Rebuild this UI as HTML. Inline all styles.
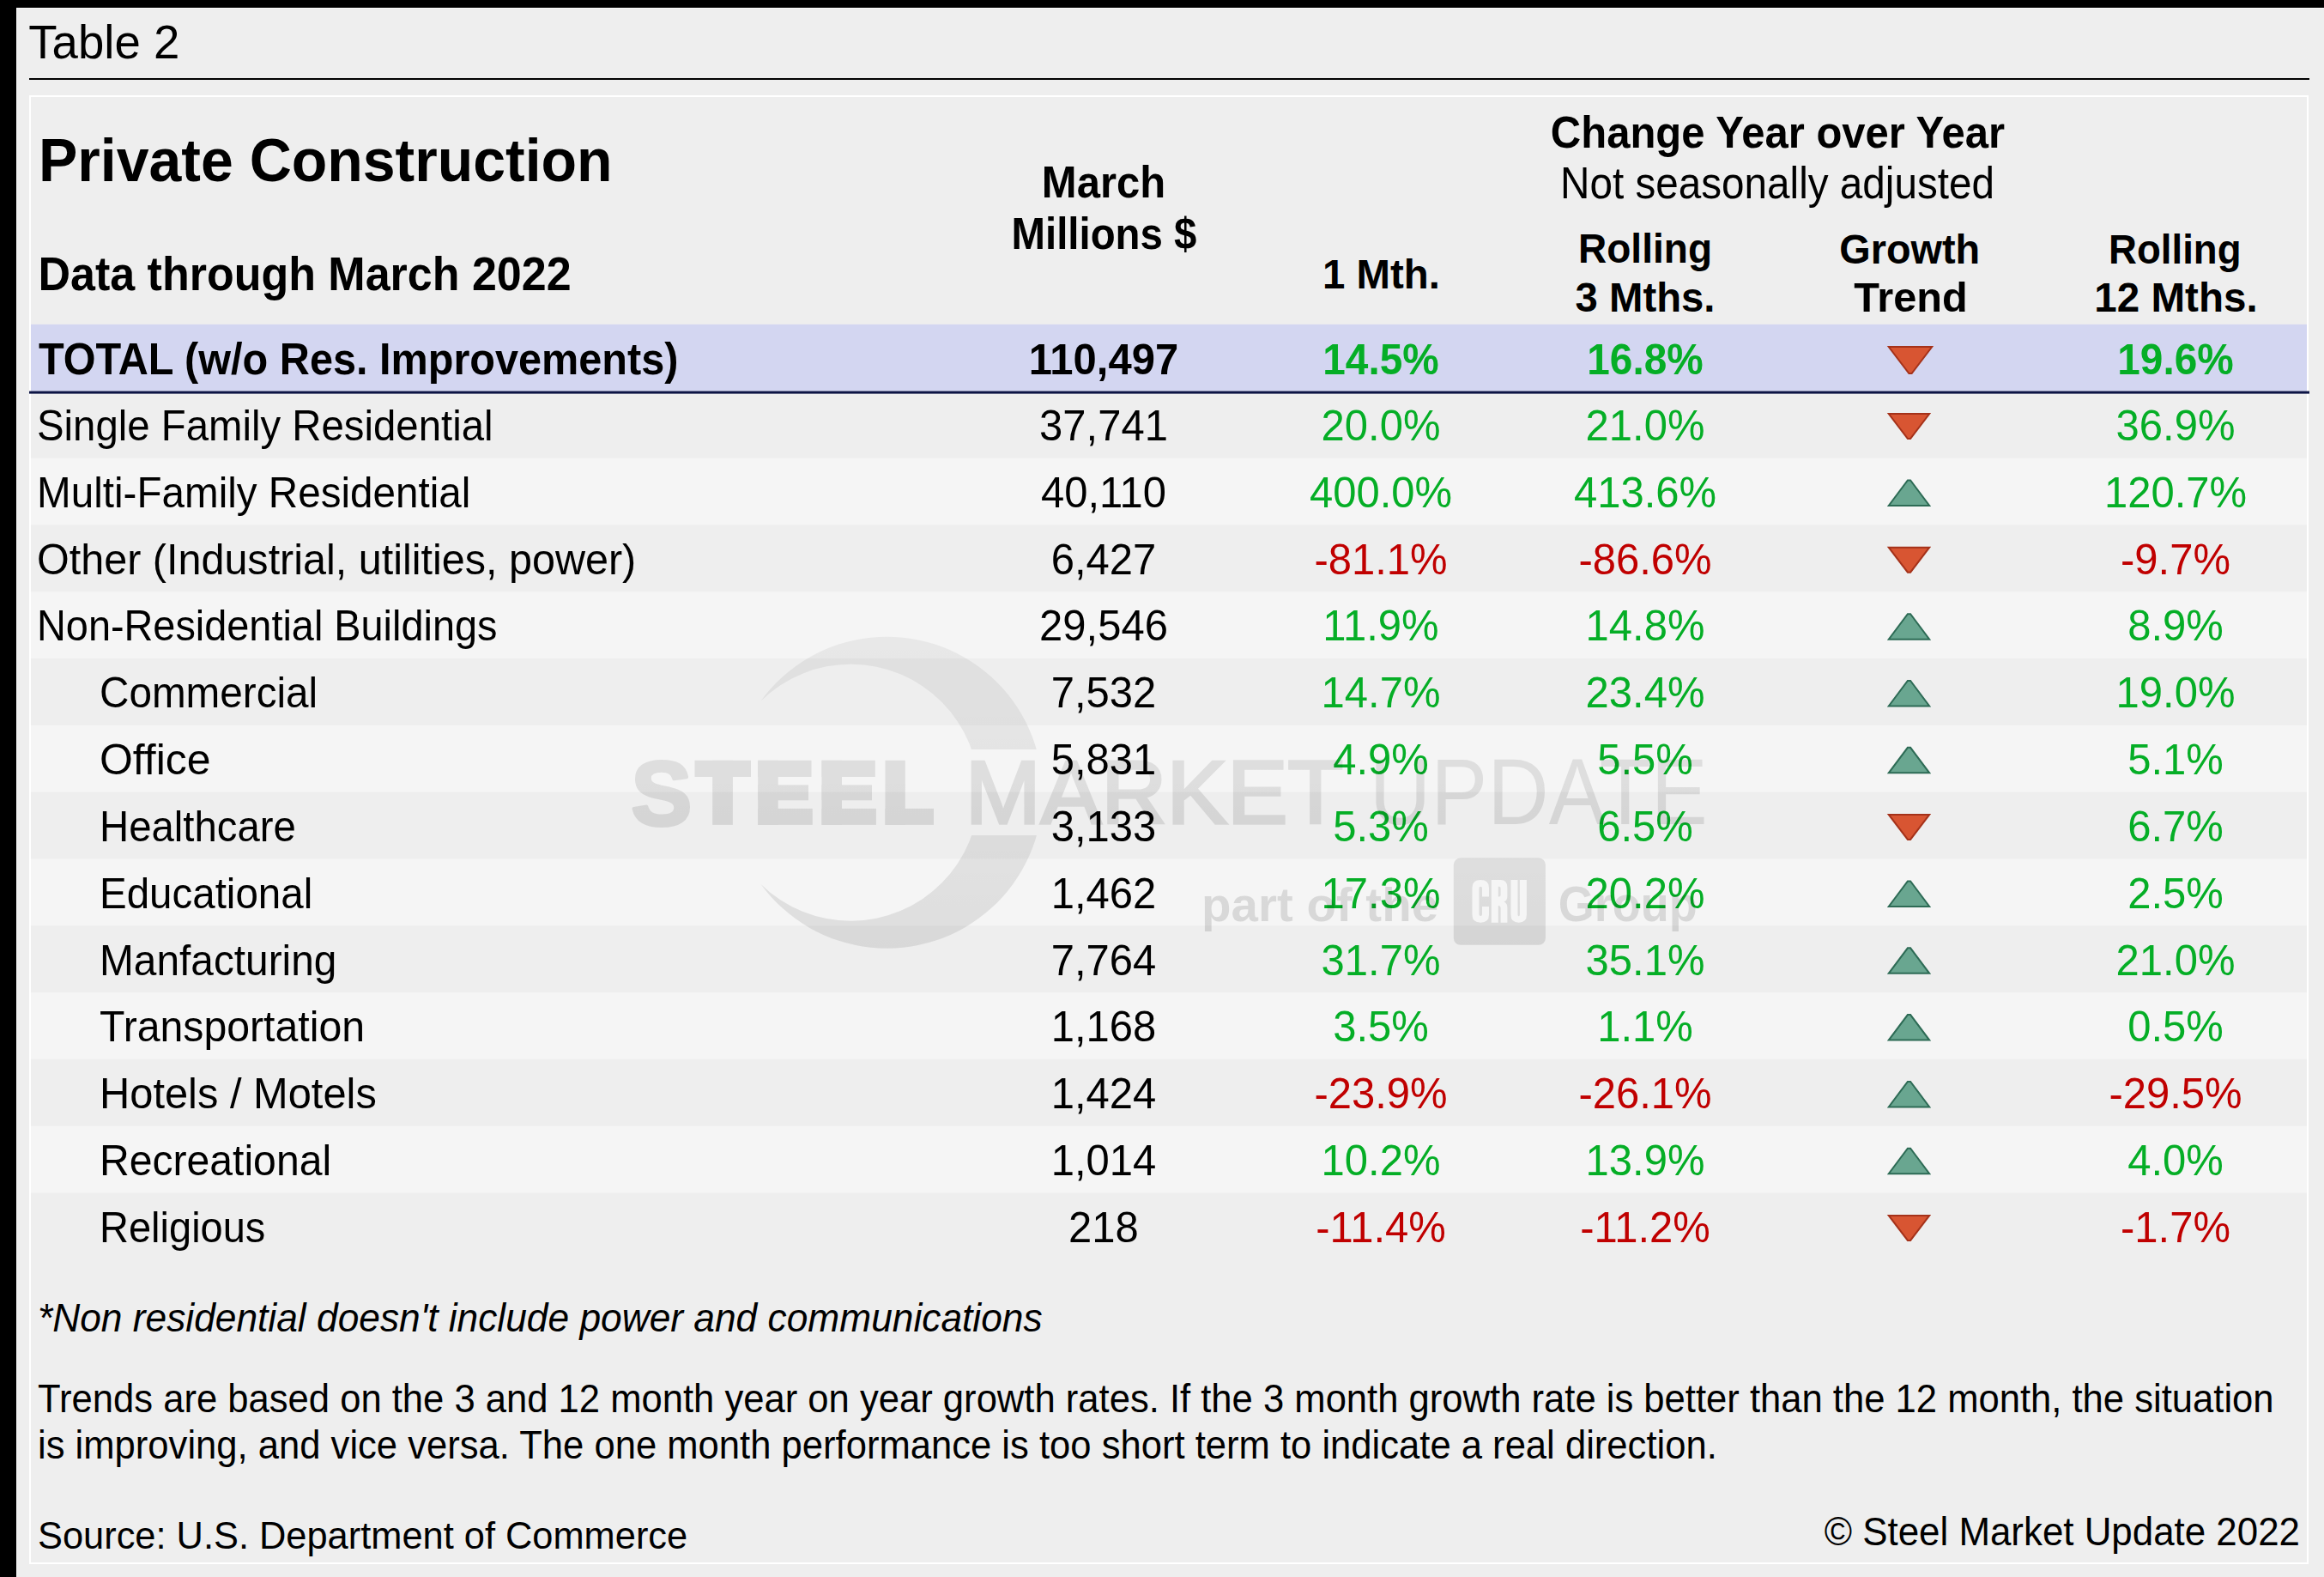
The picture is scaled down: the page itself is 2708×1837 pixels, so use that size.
<!DOCTYPE html>
<html><head><meta charset="utf-8"><style>
html,body{margin:0;padding:0;background:#eeeeee;}
svg{display:block;}
text{font-family:"Liberation Sans", sans-serif;white-space:pre;}
</style></head><body>
<svg width="2708" height="1837" viewBox="0 0 2708 1837">
<rect x="0" y="0" width="2708" height="1837" fill="#eeeeee"/>
<rect x="0" y="0" width="2708" height="9" fill="#000"/>
<rect x="0" y="0" width="19" height="1837" fill="#000"/>
<rect x="19" y="9" width="2689" height="1" fill="#fafafa"/>
<rect x="19" y="9" width="1" height="1828" fill="#fafafa"/>
<text transform="translate(33.30,68.40) scale(0.993,1.0)" font-size="55" font-weight="normal" font-style="normal" text-anchor="start" fill="#000">Table 2</text>
<rect x="34" y="91" width="2657" height="2" fill="#000"/>
<rect x="35" y="112" width="2654" height="1709" fill="none" stroke="#fff" stroke-width="2"/>
<rect x="36" y="533.54" width="2652" height="77.82" fill="#f5f5f5"/>
<rect x="36" y="689.18" width="2652" height="77.82" fill="#f5f5f5"/>
<rect x="36" y="844.82" width="2652" height="77.82" fill="#f5f5f5"/>
<rect x="36" y="1000.46" width="2652" height="77.82" fill="#f5f5f5"/>
<rect x="36" y="1156.10" width="2652" height="77.82" fill="#f5f5f5"/>
<rect x="36" y="1311.74" width="2652" height="77.82" fill="#f5f5f5"/>
<rect x="36" y="377.9" width="2652" height="77.80" fill="#d3d6f1"/>
<rect x="34" y="455.6" width="2657" height="3" fill="#0c1445"/>
<text transform="translate(45.00,210.70) scale(1.0,1.04)" font-size="68" font-weight="bold" font-style="normal" text-anchor="start" fill="#000">Private Construction</text>
<text transform="translate(44.50,337.80) scale(1.0,1.05)" font-size="52" font-weight="bold" font-style="normal" text-anchor="start" fill="#000">Data through March 2022</text>
<text transform="translate(1286.00,229.70) scale(1.0,1.06)" font-size="49" font-weight="bold" font-style="normal" text-anchor="middle" fill="#000">March</text>
<text transform="translate(1286.50,290.40) scale(0.967,1.06)" font-size="49" font-weight="bold" font-style="normal" text-anchor="middle" fill="#000">Millions $</text>
<text transform="translate(1609.50,336.10) scale(1.009,1.02)" font-size="47" font-weight="bold" font-style="normal" text-anchor="middle" fill="#000">1 Mth.</text>
<text transform="translate(2071.50,171.60) scale(1.0,1.06)" font-size="49" font-weight="bold" font-style="normal" text-anchor="middle" fill="#000">Change Year over Year</text>
<text transform="translate(2071.00,231.00) scale(0.993,1.06)" font-size="48" font-weight="normal" font-style="normal" text-anchor="middle" fill="#000">Not seasonally adjusted</text>
<text transform="translate(1917.00,306.40) scale(0.98,1.02)" font-size="47" font-weight="bold" font-style="normal" text-anchor="middle" fill="#000">Rolling</text>
<text transform="translate(1917.00,362.70) scale(1.006,1.02)" font-size="47" font-weight="bold" font-style="normal" text-anchor="middle" fill="#000">3 Mths.</text>
<text transform="translate(2225.20,306.50) scale(0.997,1.02)" font-size="47" font-weight="bold" font-style="normal" text-anchor="middle" fill="#000">Growth</text>
<text transform="translate(2226.50,362.70) scale(1.036,1.02)" font-size="47" font-weight="bold" font-style="normal" text-anchor="middle" fill="#000">Trend</text>
<text transform="translate(2534.30,306.70) scale(0.97,1.02)" font-size="47" font-weight="bold" font-style="normal" text-anchor="middle" fill="#000">Rolling</text>
<text transform="translate(2535.50,362.90) scale(1.012,1.02)" font-size="47" font-weight="bold" font-style="normal" text-anchor="middle" fill="#000">12 Mths.</text>
<text transform="translate(45.00,436.30) scale(0.992,1.06)" font-size="49" font-weight="bold" font-style="normal" text-anchor="start" fill="#000">TOTAL (w/o Res. Improvements)</text>
<text transform="translate(1286.00,436.30) scale(1.0,1.025)" font-size="49" font-weight="bold" font-style="normal" text-anchor="middle" fill="#000">110,497</text>
<text transform="translate(1609.00,436.30) scale(0.975,1.025)" font-size="49" font-weight="bold" font-style="normal" text-anchor="middle" fill="#05ae26">14.5%</text>
<text transform="translate(1917.00,436.30) scale(0.975,1.025)" font-size="49" font-weight="bold" font-style="normal" text-anchor="middle" fill="#05ae26">16.8%</text>
<text transform="translate(2535.00,436.30) scale(0.975,1.025)" font-size="49" font-weight="bold" font-style="normal" text-anchor="middle" fill="#05ae26">19.6%</text>
<polygon points="2200.8,404.0 2251.2,404.0 2227.6,435.0 2224.4,435.0" fill="#d85532" stroke="#a5321a" stroke-width="2" stroke-linejoin="miter" stroke-miterlimit="3"/>
<text transform="translate(43.00,513.00) scale(0.997,1.06)" font-size="47.5" font-weight="normal" font-style="normal" text-anchor="start" fill="#000">Single Family Residential</text>
<text transform="translate(1286.00,513.00) scale(1.0,1.025)" font-size="49" font-weight="normal" font-style="normal" text-anchor="middle" fill="#000">37,741</text>
<text transform="translate(1609.00,513.00) scale(1.0,1.025)" font-size="49" font-weight="normal" font-style="normal" text-anchor="middle" fill="#05ae26">20.0%</text>
<text transform="translate(1917.00,513.00) scale(1.0,1.025)" font-size="49" font-weight="normal" font-style="normal" text-anchor="middle" fill="#05ae26">21.0%</text>
<text transform="translate(2535.00,513.00) scale(1.0,1.025)" font-size="49" font-weight="normal" font-style="normal" text-anchor="middle" fill="#05ae26">36.9%</text>
<polygon points="2200.8,482.0 2248.2,482.0 2226.1,511.0 2222.9,511.0" fill="#d85532" stroke="#a5321a" stroke-width="2" stroke-linejoin="miter" stroke-miterlimit="3"/>
<text transform="translate(43.00,590.82) scale(1.0026829,1.06)" font-size="47.5" font-weight="normal" font-style="normal" text-anchor="start" fill="#000">Multi-Family Residential</text>
<text transform="translate(1286.00,590.82) scale(1.0,1.025)" font-size="49" font-weight="normal" font-style="normal" text-anchor="middle" fill="#000">40,110</text>
<text transform="translate(1609.00,590.82) scale(1.0,1.025)" font-size="49" font-weight="normal" font-style="normal" text-anchor="middle" fill="#05ae26">400.0%</text>
<text transform="translate(1917.00,590.82) scale(1.0,1.025)" font-size="49" font-weight="normal" font-style="normal" text-anchor="middle" fill="#05ae26">413.6%</text>
<text transform="translate(2535.00,590.82) scale(1.0,1.025)" font-size="49" font-weight="normal" font-style="normal" text-anchor="middle" fill="#05ae26">120.7%</text>
<polygon points="2200.8,589.0 2248.2,589.0 2226.1,559.5 2222.9,559.5" fill="#69a690" stroke="#2d6b55" stroke-width="2" stroke-linejoin="miter" stroke-miterlimit="3"/>
<text transform="translate(43.00,668.64) scale(1.0213268,1.06)" font-size="47.5" font-weight="normal" font-style="normal" text-anchor="start" fill="#000">Other (Industrial, utilities, power)</text>
<text transform="translate(1286.00,668.64) scale(1.0,1.025)" font-size="49" font-weight="normal" font-style="normal" text-anchor="middle" fill="#000">6,427</text>
<text transform="translate(1609.00,668.64) scale(1.0,1.025)" font-size="49" font-weight="normal" font-style="normal" text-anchor="middle" fill="#c00000">-81.1%</text>
<text transform="translate(1917.00,668.64) scale(1.0,1.025)" font-size="49" font-weight="normal" font-style="normal" text-anchor="middle" fill="#c00000">-86.6%</text>
<text transform="translate(2535.00,668.64) scale(1.0,1.025)" font-size="49" font-weight="normal" font-style="normal" text-anchor="middle" fill="#c00000">-9.7%</text>
<polygon points="2200.8,637.7 2248.2,637.7 2226.1,666.7 2222.9,666.7" fill="#d85532" stroke="#a5321a" stroke-width="2" stroke-linejoin="miter" stroke-miterlimit="3"/>
<text transform="translate(43.00,746.46) scale(0.9864318,1.06)" font-size="47.5" font-weight="normal" font-style="normal" text-anchor="start" fill="#000">Non-Residential Buildings</text>
<text transform="translate(1286.00,746.46) scale(1.0,1.025)" font-size="49" font-weight="normal" font-style="normal" text-anchor="middle" fill="#000">29,546</text>
<text transform="translate(1609.00,746.46) scale(1.0,1.025)" font-size="49" font-weight="normal" font-style="normal" text-anchor="middle" fill="#05ae26">11.9%</text>
<text transform="translate(1917.00,746.46) scale(1.0,1.025)" font-size="49" font-weight="normal" font-style="normal" text-anchor="middle" fill="#05ae26">14.8%</text>
<text transform="translate(2535.00,746.46) scale(1.0,1.025)" font-size="49" font-weight="normal" font-style="normal" text-anchor="middle" fill="#05ae26">8.9%</text>
<polygon points="2200.8,744.7 2248.2,744.7 2226.1,715.2 2222.9,715.2" fill="#69a690" stroke="#2d6b55" stroke-width="2" stroke-linejoin="miter" stroke-miterlimit="3"/>
<text transform="translate(116.00,824.28) scale(1.0034805,1.06)" font-size="47.5" font-weight="normal" font-style="normal" text-anchor="start" fill="#000">Commercial</text>
<text transform="translate(1286.00,824.28) scale(1.0,1.025)" font-size="49" font-weight="normal" font-style="normal" text-anchor="middle" fill="#000">7,532</text>
<text transform="translate(1609.00,824.28) scale(1.0,1.025)" font-size="49" font-weight="normal" font-style="normal" text-anchor="middle" fill="#05ae26">14.7%</text>
<text transform="translate(1917.00,824.28) scale(1.0,1.025)" font-size="49" font-weight="normal" font-style="normal" text-anchor="middle" fill="#05ae26">23.4%</text>
<text transform="translate(2535.00,824.28) scale(1.0,1.025)" font-size="49" font-weight="normal" font-style="normal" text-anchor="middle" fill="#05ae26">19.0%</text>
<polygon points="2200.8,822.5 2248.2,822.5 2226.1,793.0 2222.9,793.0" fill="#69a690" stroke="#2d6b55" stroke-width="2" stroke-linejoin="miter" stroke-miterlimit="3"/>
<text transform="translate(116.00,902.10) scale(1.0518349999999999,1.06)" font-size="47.5" font-weight="normal" font-style="normal" text-anchor="start" fill="#000">Office</text>
<text transform="translate(1286.00,902.10) scale(1.0,1.025)" font-size="49" font-weight="normal" font-style="normal" text-anchor="middle" fill="#000">5,831</text>
<text transform="translate(1609.00,902.10) scale(1.0,1.025)" font-size="49" font-weight="normal" font-style="normal" text-anchor="middle" fill="#05ae26">4.9%</text>
<text transform="translate(1917.00,902.10) scale(1.0,1.025)" font-size="49" font-weight="normal" font-style="normal" text-anchor="middle" fill="#05ae26">5.5%</text>
<text transform="translate(2535.00,902.10) scale(1.0,1.025)" font-size="49" font-weight="normal" font-style="normal" text-anchor="middle" fill="#05ae26">5.1%</text>
<polygon points="2200.8,900.3 2248.2,900.3 2226.1,870.8 2222.9,870.8" fill="#69a690" stroke="#2d6b55" stroke-width="2" stroke-linejoin="miter" stroke-miterlimit="3"/>
<text transform="translate(116.00,979.92) scale(0.997,1.06)" font-size="47.5" font-weight="normal" font-style="normal" text-anchor="start" fill="#000">Healthcare</text>
<text transform="translate(1286.00,979.92) scale(1.0,1.025)" font-size="49" font-weight="normal" font-style="normal" text-anchor="middle" fill="#000">3,133</text>
<text transform="translate(1609.00,979.92) scale(1.0,1.025)" font-size="49" font-weight="normal" font-style="normal" text-anchor="middle" fill="#05ae26">5.3%</text>
<text transform="translate(1917.00,979.92) scale(1.0,1.025)" font-size="49" font-weight="normal" font-style="normal" text-anchor="middle" fill="#05ae26">6.5%</text>
<text transform="translate(2535.00,979.92) scale(1.0,1.025)" font-size="49" font-weight="normal" font-style="normal" text-anchor="middle" fill="#05ae26">6.7%</text>
<polygon points="2200.8,948.9 2248.2,948.9 2226.1,977.9 2222.9,977.9" fill="#d85532" stroke="#a5321a" stroke-width="2" stroke-linejoin="miter" stroke-miterlimit="3"/>
<text transform="translate(116.00,1057.74) scale(0.9999909999999999,1.06)" font-size="47.5" font-weight="normal" font-style="normal" text-anchor="start" fill="#000">Educational</text>
<text transform="translate(1286.00,1057.74) scale(1.0,1.025)" font-size="49" font-weight="normal" font-style="normal" text-anchor="middle" fill="#000">1,462</text>
<text transform="translate(1609.00,1057.74) scale(1.0,1.025)" font-size="49" font-weight="normal" font-style="normal" text-anchor="middle" fill="#05ae26">17.3%</text>
<text transform="translate(1917.00,1057.74) scale(1.0,1.025)" font-size="49" font-weight="normal" font-style="normal" text-anchor="middle" fill="#05ae26">20.2%</text>
<text transform="translate(2535.00,1057.74) scale(1.0,1.025)" font-size="49" font-weight="normal" font-style="normal" text-anchor="middle" fill="#05ae26">2.5%</text>
<polygon points="2200.8,1056.0 2248.2,1056.0 2226.1,1026.5 2222.9,1026.5" fill="#69a690" stroke="#2d6b55" stroke-width="2" stroke-linejoin="miter" stroke-miterlimit="3"/>
<text transform="translate(116.00,1135.56) scale(1.00697,1.06)" font-size="47.5" font-weight="normal" font-style="normal" text-anchor="start" fill="#000">Manfacturing</text>
<text transform="translate(1286.00,1135.56) scale(1.0,1.025)" font-size="49" font-weight="normal" font-style="normal" text-anchor="middle" fill="#000">7,764</text>
<text transform="translate(1609.00,1135.56) scale(1.0,1.025)" font-size="49" font-weight="normal" font-style="normal" text-anchor="middle" fill="#05ae26">31.7%</text>
<text transform="translate(1917.00,1135.56) scale(1.0,1.025)" font-size="49" font-weight="normal" font-style="normal" text-anchor="middle" fill="#05ae26">35.1%</text>
<text transform="translate(2535.00,1135.56) scale(1.0,1.025)" font-size="49" font-weight="normal" font-style="normal" text-anchor="middle" fill="#05ae26">21.0%</text>
<polygon points="2200.8,1133.8 2248.2,1133.8 2226.1,1104.3 2222.9,1104.3" fill="#69a690" stroke="#2d6b55" stroke-width="2" stroke-linejoin="miter" stroke-miterlimit="3"/>
<text transform="translate(116.00,1213.38) scale(1.014946,1.06)" font-size="47.5" font-weight="normal" font-style="normal" text-anchor="start" fill="#000">Transportation</text>
<text transform="translate(1286.00,1213.38) scale(1.0,1.025)" font-size="49" font-weight="normal" font-style="normal" text-anchor="middle" fill="#000">1,168</text>
<text transform="translate(1609.00,1213.38) scale(1.0,1.025)" font-size="49" font-weight="normal" font-style="normal" text-anchor="middle" fill="#05ae26">3.5%</text>
<text transform="translate(1917.00,1213.38) scale(1.0,1.025)" font-size="49" font-weight="normal" font-style="normal" text-anchor="middle" fill="#05ae26">1.1%</text>
<text transform="translate(2535.00,1213.38) scale(1.0,1.025)" font-size="49" font-weight="normal" font-style="normal" text-anchor="middle" fill="#05ae26">0.5%</text>
<polygon points="2200.8,1211.6 2248.2,1211.6 2226.1,1182.1 2222.9,1182.1" fill="#69a690" stroke="#2d6b55" stroke-width="2" stroke-linejoin="miter" stroke-miterlimit="3"/>
<text transform="translate(116.00,1291.20) scale(1.027907,1.06)" font-size="47.5" font-weight="normal" font-style="normal" text-anchor="start" fill="#000">Hotels / Motels</text>
<text transform="translate(1286.00,1291.20) scale(1.0,1.025)" font-size="49" font-weight="normal" font-style="normal" text-anchor="middle" fill="#000">1,424</text>
<text transform="translate(1609.00,1291.20) scale(1.0,1.025)" font-size="49" font-weight="normal" font-style="normal" text-anchor="middle" fill="#c00000">-23.9%</text>
<text transform="translate(1917.00,1291.20) scale(1.0,1.025)" font-size="49" font-weight="normal" font-style="normal" text-anchor="middle" fill="#c00000">-26.1%</text>
<text transform="translate(2535.00,1291.20) scale(1.0,1.025)" font-size="49" font-weight="normal" font-style="normal" text-anchor="middle" fill="#c00000">-29.5%</text>
<polygon points="2200.8,1289.4 2248.2,1289.4 2226.1,1259.9 2222.9,1259.9" fill="#69a690" stroke="#2d6b55" stroke-width="2" stroke-linejoin="miter" stroke-miterlimit="3"/>
<text transform="translate(116.00,1369.02) scale(1.012952,1.06)" font-size="47.5" font-weight="normal" font-style="normal" text-anchor="start" fill="#000">Recreational</text>
<text transform="translate(1286.00,1369.02) scale(1.0,1.025)" font-size="49" font-weight="normal" font-style="normal" text-anchor="middle" fill="#000">1,014</text>
<text transform="translate(1609.00,1369.02) scale(1.0,1.025)" font-size="49" font-weight="normal" font-style="normal" text-anchor="middle" fill="#05ae26">10.2%</text>
<text transform="translate(1917.00,1369.02) scale(1.0,1.025)" font-size="49" font-weight="normal" font-style="normal" text-anchor="middle" fill="#05ae26">13.9%</text>
<text transform="translate(2535.00,1369.02) scale(1.0,1.025)" font-size="49" font-weight="normal" font-style="normal" text-anchor="middle" fill="#05ae26">4.0%</text>
<polygon points="2200.8,1367.2 2248.2,1367.2 2226.1,1337.7 2222.9,1337.7" fill="#69a690" stroke="#2d6b55" stroke-width="2" stroke-linejoin="miter" stroke-miterlimit="3"/>
<text transform="translate(116.00,1446.84) scale(0.990021,1.06)" font-size="47.5" font-weight="normal" font-style="normal" text-anchor="start" fill="#000">Religious</text>
<text transform="translate(1286.00,1446.84) scale(1.0,1.025)" font-size="49" font-weight="normal" font-style="normal" text-anchor="middle" fill="#000">218</text>
<text transform="translate(1609.00,1446.84) scale(1.0,1.025)" font-size="49" font-weight="normal" font-style="normal" text-anchor="middle" fill="#c00000">-11.4%</text>
<text transform="translate(1917.00,1446.84) scale(1.0,1.025)" font-size="49" font-weight="normal" font-style="normal" text-anchor="middle" fill="#c00000">-11.2%</text>
<text transform="translate(2535.00,1446.84) scale(1.0,1.025)" font-size="49" font-weight="normal" font-style="normal" text-anchor="middle" fill="#c00000">-1.7%</text>
<polygon points="2200.8,1415.9 2248.2,1415.9 2226.1,1444.9 2222.9,1444.9" fill="#d85532" stroke="#a5321a" stroke-width="2" stroke-linejoin="miter" stroke-miterlimit="3"/>
<text transform="translate(44.00,1551.00) scale(1.0,1.04)" font-size="44.3" font-weight="normal" font-style="italic" text-anchor="start" fill="#000">*Non residential doesn&#39;t include power and communications</text>
<text transform="translate(44.00,1645.00) scale(1.0,1.04)" font-size="43.6" font-weight="normal" font-style="normal" text-anchor="start" fill="#000">Trends are based on the 3 and 12 month year on year growth rates. If the 3 month growth rate is better than the 12 month, the situation</text>
<text transform="translate(44.00,1698.60) scale(1.0,1.04)" font-size="43.6" font-weight="normal" font-style="normal" text-anchor="start" fill="#000">is improving, and vice versa. The one month performance is too short term to indicate a real direction.</text>
<text transform="translate(44.00,1803.50) scale(1.0,1.04)" font-size="43.4" font-weight="normal" font-style="normal" text-anchor="start" fill="#000">Source: U.S. Department of Commerce</text>
<text transform="translate(2680.00,1800.00) scale(1.0,1.04)" font-size="43.9" font-weight="normal" font-style="normal" text-anchor="end" fill="#000">© Steel Market Update 2022</text>
<defs><clipPath id="cband"><rect x="600" y="600" width="800" height="273"/><rect x="600" y="973" width="800" height="300"/></clipPath><linearGradient id="wmg" gradientUnits="userSpaceOnUse" x1="0" y1="740" x2="0" y2="1105"><stop offset="0" stop-color="#fff" stop-opacity="0.07"/><stop offset="1" stop-color="#fff" stop-opacity="0.125"/></linearGradient><mask id="wmm" maskUnits="userSpaceOnUse" x="0" y="0" width="2708" height="1837"><rect x="0" y="700" width="2708" height="420" fill="url(#wmg)"/></mask></defs>
<g mask="url(#wmm)" fill="#000">
<path clip-path="url(#cband)" opacity="0.72" d="M 886.6,816.5 A 181.5,181.5 0 1,1 886.6,1029.9 A 149.5,149.5 0 1,0 886.6,816.5 Z"/>
<text transform="translate(735.5,960.7)" font-size="106" font-weight="bold" stroke="#000" stroke-width="4" stroke-linejoin="round">S</text>
<rect x="809.5" y="885.8" width="65.5" height="19.1"/>
<rect x="830.2" y="885.8" width="23.7" height="75.1"/>
<rect x="883.2" y="885.8" width="23.5" height="75.1"/>
<rect x="883.2" y="885.8" width="62.3" height="19.1"/>
<rect x="883.2" y="914.4" width="58.8" height="17.9"/>
<rect x="883.2" y="941.9" width="63.6" height="19.0"/>
<rect x="957.5" y="885.8" width="23.5" height="75.1"/>
<rect x="957.5" y="885.8" width="62.3" height="19.1"/>
<rect x="957.5" y="914.4" width="58.5" height="17.9"/>
<rect x="957.5" y="941.9" width="63.4" height="19.0"/>
<rect x="1031.5" y="885.8" width="23.3" height="75.1"/>
<rect x="1031.5" y="941.9" width="56.5" height="19.0"/>
<text transform="translate(1124.8,958.85) scale(0.9965,0.985)" font-size="106" stroke="#000" stroke-width="3.5" stroke-linejoin="miter">MARKET</text>
<text transform="translate(1595.7,960.4) scale(0.934,1.024)" font-size="106">UPDATE</text>
<text transform="translate(1400,1072.6) scale(1.0086,1)" font-size="56" font-weight="bold">part of the</text>
<text transform="translate(1815.8,1072.6) scale(0.948,1)" font-size="57" font-weight="bold">Group</text>
<rect x="1693.8" y="999.4" width="107.1" height="101.4" rx="8" opacity="0.85"/>
</g>
<g fill="#f5f5f5"><path d="M 1715.5,1034 Q 1715.5,1025.1 1725.2,1025.1 Q 1735,1025.1 1735,1034 L 1735,1044.4 L 1727,1044.4 L 1727,1034.5 Q 1727,1032.7 1725.2,1032.7 Q 1723.5,1032.7 1723.5,1034.5 L 1723.5,1065.3 Q 1723.5,1067.1 1725.2,1067.1 Q 1727,1067.1 1727,1065.3 L 1727,1056 L 1735,1056 L 1735,1065.8 Q 1735,1074.7 1725.2,1074.7 Q 1715.5,1074.7 1715.5,1065.8 Z"/><path fill-rule="evenodd" d="M 1737.8,1025.1 L 1748.5,1025.1 Q 1756.4,1025.1 1756.4,1034 L 1756.4,1044 Q 1756.4,1049 1752.5,1050.5 Q 1756.4,1052 1756.4,1057 L 1756.4,1074.7 L 1748.6,1074.7 L 1748.6,1058 Q 1748.6,1055 1746,1055 L 1745.8,1055 L 1745.8,1074.7 L 1737.8,1074.7 Z M 1745.8,1032.7 L 1747,1032.7 Q 1748.6,1032.7 1748.6,1034.5 L 1748.6,1042.5 Q 1748.6,1044.4 1747,1044.4 L 1745.8,1044.4 Z"/><path d="M 1760.5,1025.1 L 1768.5,1025.1 L 1768.5,1065.5 Q 1768.5,1067.3 1769.7,1067.3 Q 1770.9,1067.3 1770.9,1065.5 L 1770.9,1025.1 L 1778.9,1025.1 L 1778.9,1065.8 Q 1778.9,1074.7 1769.7,1074.7 Q 1760.5,1074.7 1760.5,1065.8 Z"/></g>
</svg>
</body></html>
